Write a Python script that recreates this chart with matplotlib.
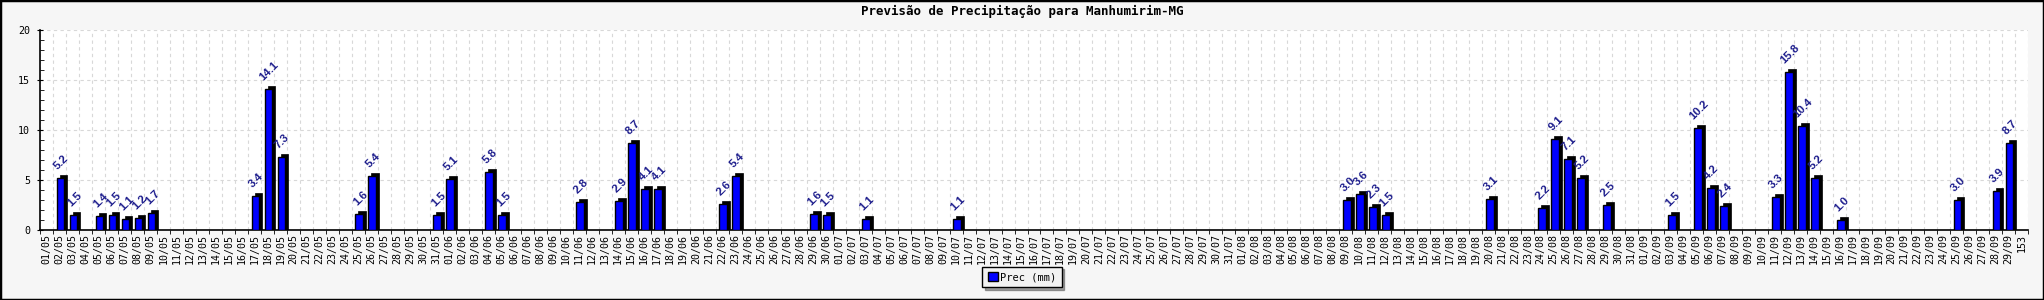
import matplotlib
matplotlib.use('Agg')
import matplotlib.pyplot as plt
import numpy as np
import pandas as pd
from matplotlib.transforms import ScaledTranslation
from matplotlib.patches import Patch, Rectangle

title = 'Previsão de Precipitação para Manhumirim-MG'
series_name = 'Prec (mm)'

may = [0, 5.2, 1.5, 0, 1.4, 1.5, 1.1, 1.2, 1.7, 0,
       0, 0, 0, 0, 0, 0, 3.4, 14.1, 7.3, 0,
       0, 0, 0, 0, 1.6, 5.4, 0, 0, 0, 0, 1.5]
june = [5.1, 0, 0, 5.8, 1.5, 0, 0, 0, 0, 0,
        2.8, 0, 0, 2.9, 8.7, 4.1, 4.1, 0, 0, 0,
        0, 2.6, 5.4, 0, 0, 0, 0, 0, 1.6, 1.5]
july = [0, 0, 1.1, 0, 0, 0, 0, 0, 0, 1.1,
        0, 0, 0, 0, 0, 0, 0, 0, 0, 0,
        0, 0, 0, 0, 0, 0, 0, 0, 0, 0, 0]
august = [0, 0, 0, 0, 0, 0, 0, 0, 3.0, 3.6,
          2.3, 1.5, 0, 0, 0, 0, 0, 0, 0, 3.1,
          0, 0, 0, 2.2, 9.1, 7.1, 5.2, 0, 2.5, 0, 0]
september = [0, 0, 1.5, 0, 10.2, 4.2, 2.4, 0, 0, 0,
             3.3, 15.8, 10.4, 5.2, 0, 1.0, 0, 0, 0, 0,
             0, 0, 0, 0, 3.0, 0, 0, 3.9, 8.7]
last = [0]

values = may + june + july + august + september + last
labels = list(pd.date_range('2024-05-01', '2024-09-29').strftime('%d/%m')) + ['153']

mono = 'DejaVu Sans Mono'
bg = '#f6f6f6'

fig = plt.figure(figsize=(20.44, 3.0), dpi=100, facecolor=bg)
ax = fig.add_axes([40 / 2044, 1 - 230 / 300, 1988 / 2044, 200 / 300])
ax.set_facecolor('white')

x = np.arange(len(values))
vals = np.array(values, dtype=float)
mask = vals > 0
xs = x[mask] + 0.08
vs = vals[mask]

depth = ax.transData + ScaledTranslation(3 / 100, 3 / 100, fig.dpi_scale_trans)
ax.bar(xs, vs + 0.3, bottom=-0.3, width=0.6, color='black', edgecolor='black',
       linewidth=0.5, transform=depth, zorder=3)
ax.bar(xs, vs, width=0.6, color='#0000ff', edgecolor='black', linewidth=1.0, zorder=4)

for xi, v in zip(xs, vs):
    ax.annotate(f'{v:.1f}', (xi, v), xytext=(1, 7), textcoords='offset pixels',
                rotation=45, ha='center', va='bottom', color='#1c1c8c',
                fontsize=8.2, fontweight='bold', family='Liberation Sans', zorder=5)

ax.set_xlim(-0.5, len(values) - 0.5)
ax.set_ylim(0, 20)
ax.set_xticks(x)
ax.set_xticklabels(labels, rotation=90, family=mono, fontsize=7.2)
ax.set_xticks(np.arange(-0.5, len(values), 1), minor=True)
ax.tick_params(axis='x', which='major', length=0, pad=3)
ax.tick_params(axis='x', which='minor', length=3, direction='out', color='black')
ax.set_yticks([0, 5, 10, 15, 20])
ax.set_yticklabels(['0', '5', '10', '15', '20'], family=mono, fontsize=7.2)
ax.set_yticks(np.arange(0, 21, 1), minor=True)
ax.tick_params(axis='y', which='major', length=4, direction='inout', pad=5)
ax.tick_params(axis='y', which='minor', length=3, direction='in')

ax.grid(which='minor', axis='x', linestyle=(0, (3, 3)), color='#d8d8d8', linewidth=0.8, zorder=0)
ax.grid(which='major', axis='y', linestyle=(0, (3, 3)), color='#d8d8d8', linewidth=0.8, zorder=0)
ax.grid(which='major', axis='x', visible=False)
ax.set_axisbelow(True)
for s in ['top', 'right']:
    ax.spines[s].set_visible(False)
for s in ['left', 'bottom']:
    ax.spines[s].set_linewidth(1.2)
    ax.spines[s].set_color('black')

fig.text(0.5, 1 - 11 / 300, title, ha='center', va='center', family=mono,
         fontsize=9, fontweight='bold')

leg = fig.legend(handles=[Patch(facecolor='#0000ff', edgecolor='black', label=series_name)],
                 loc='center', bbox_to_anchor=(1022 / 2044, 1 - 277 / 300),
                 frameon=True, fancybox=False, shadow=True, prop={'family': mono, 'size': 7.5},
                 handlelength=1.0, handleheight=1.0, handletextpad=0.2, borderpad=0.5)
leg.get_frame().set_edgecolor('black')
leg.get_frame().set_facecolor('#f2f2f2')
leg.get_frame().set_linewidth(1.0)

fig.patches.append(Rectangle((0, 0), 1, 1, transform=fig.transFigure, fill=False,
                             edgecolor='black', linewidth=2.5))

fig.savefig('out.png', dpi=100, facecolor=bg)
